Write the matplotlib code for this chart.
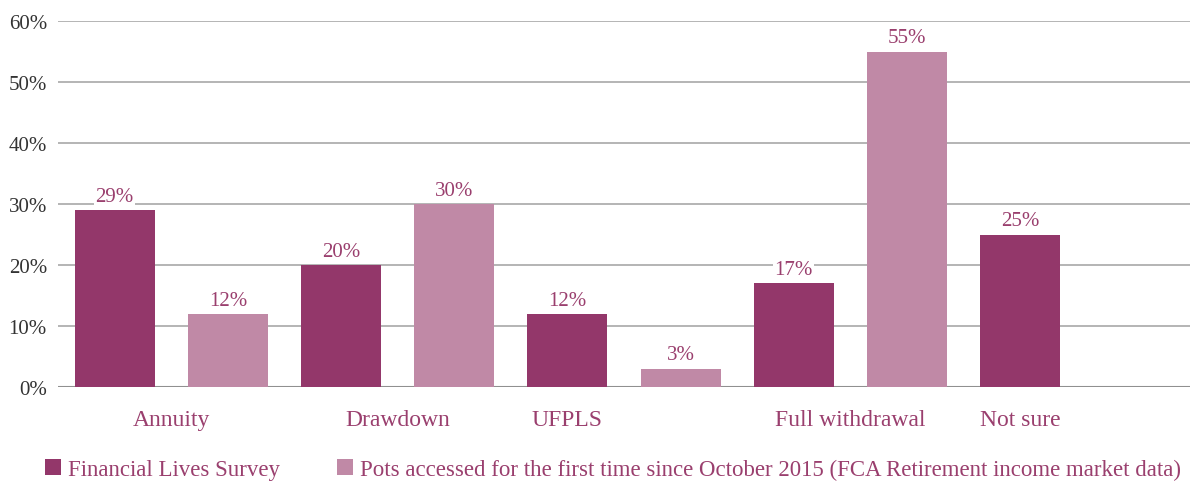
import matplotlib
matplotlib.use("Agg")
import matplotlib.pyplot as plt
import numpy as np

categories = ["Annuity", "Drawdown", "UFPLS", "Full withdrawal", "Not sure"]
survey = [29, 20, 12, 17, 25]
pots = [12, 30, 3, 55, None]
series_names = ["Financial Lives Survey",
                "Pots accessed for the first time since October 2015 (FCA Retirement income market data)"]

dark = "#93376A"
light = "#C089A6"
text_col = "#9A3F6E"
grid_col = "#A8A8A8"

plt.rcParams["font.family"] = ["Liberation Serif", "DejaVu Serif"]

fig = plt.figure(figsize=(11.99, 4.85), dpi=100)
ax = fig.add_axes([58 / 1199, 1 - 388 / 485, (1190 - 58) / 1199, (388 - 22) / 485])

w = 0.708
slots_dark = np.arange(len(categories)) * 2
slots_light = slots_dark + 1

b1 = ax.bar(slots_dark, survey, width=w, color=dark, zorder=3, label=series_names[0])
pv = [v if v is not None else 0 for v in pots]
b2 = ax.bar(slots_light, pv, width=w, color=light, zorder=3, label=series_names[1])

for x, v in zip(slots_dark, survey):
    ax.text(x, v + 0.7, f"{v}%", ha="center", va="bottom", fontsize=15, color=text_col, zorder=4,
            bbox=dict(facecolor="white", edgecolor="none", pad=1))
for x, v in zip(slots_light, pots):
    if v is None:
        continue
    ax.text(x, v + 0.7, f"{v}%", ha="center", va="bottom", fontsize=15, color=text_col, zorder=4,
            bbox=dict(facecolor="white", edgecolor="none", pad=1))

ax.set_xlim(-0.5, 9.5)
ax.set_ylim(0, 60)
ax.set_yticks(range(0, 61, 10))
ax.set_yticklabels([f"{t}%" for t in range(0, 61, 10)], fontsize=15, color="#333333")
ax.yaxis.grid(True, color=grid_col, linewidth=1.2, zorder=0)
ax.axhline(0, color="#909090", linewidth=1.5, zorder=2)

label_pos = [0.5, 2.5, 4.0, 6.5, 8.0]
ax.set_xticks(label_pos)
ax.set_xticklabels(categories, fontsize=17, color=text_col)
ax.tick_params(axis="x", length=0, pad=16)
ax.tick_params(axis="y", length=0, pad=8)

for s in ax.spines.values():
    s.set_visible(False)

fig.legend(handles=[b1, b2], loc="center left", bbox_to_anchor=(45 / 1199, 1 - 470 / 485),
           ncol=2, frameon=False, fontsize=16.5, handlelength=0.7, handleheight=0.7,
           handletextpad=0.3, columnspacing=2.5, borderpad=0, borderaxespad=0,
           labelcolor=text_col)

fig.savefig("out.png", dpi=100)
